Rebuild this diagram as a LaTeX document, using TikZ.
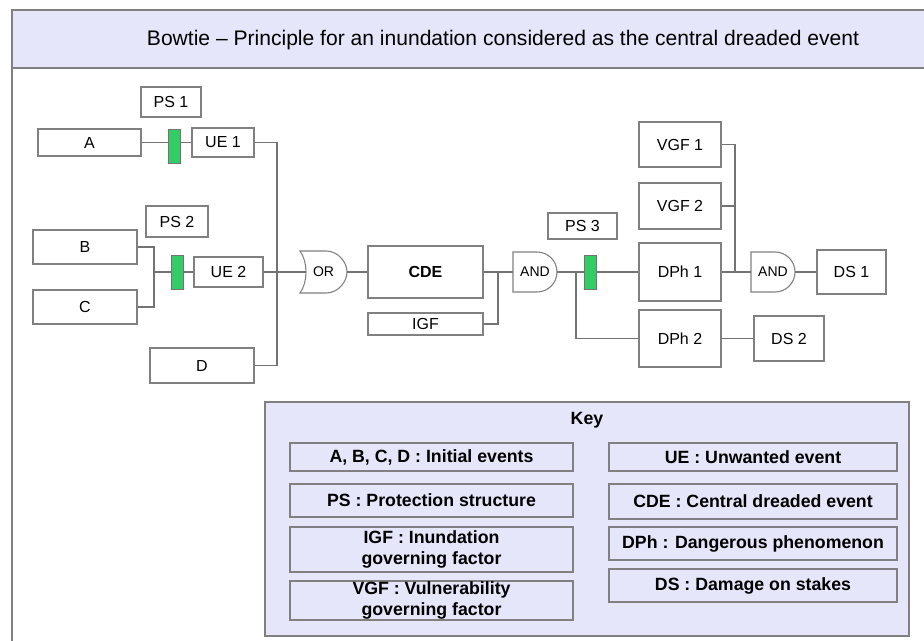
\documentclass[tikz,border=0pt]{standalone}
\usepackage{fontspec}
\setmainfont{Liberation Sans}
\usetikzlibrary{calc}
\definecolor{keylav}{RGB}{230,230,250}
\definecolor{framegray}{RGB}{128,128,128}
\definecolor{wiregray}{RGB}{115,115,115}
\definecolor{psgreen}{RGB}{51,204,102}
\tikzset{
  evbox/.style={draw=framegray,line width=0.8pt,fill=white,inner sep=0pt,
    font=\fontsize{12}{14}\selectfont},
  keybox/.style={draw=framegray,line width=0.8pt,fill=keylav,inner sep=0pt,
    align=center,font=\bfseries\fontsize{13.3}{15.5}\selectfont},
  barrier/.style={draw=wiregray,line width=0.7pt,fill=psgreen,inner sep=0pt,
    minimum width=12*0.75pt,minimum height=34*0.75pt},
  gateline/.style={draw=framegray,line width=0.8pt,fill=white},
  gatelbl/.style={inner sep=0pt,font=\fontsize{10.5}{12}\selectfont},
  wire/.style={wiregray,line width=0.8pt}
}
\newcommand{\evcell}[6]{%
  \node[evbox,minimum width=#4*0.75pt,minimum height=#5*0.75pt] (#1) at (#2,#3) {#6};
}
\newcommand{\keycell}[6]{%
  \node[keybox,minimum width=#4*0.75pt,minimum height=#5*0.75pt] (#1) at (#2,#3) {#6};
}
\newcommand{\andgate}[3]{%
  \path[gateline] (#2-22,#3-20) -- (#2+2,#3-20) arc[start angle=-90,end angle=90,radius=20]
    -- (#2-22,#3+20) -- cycle;
  \node[gatelbl,minimum width=44*0.75pt,minimum height=40*0.75pt] (#1) at (#2,#3) {AND};
}
\newcommand{\orgate}[3]{%
  % concave back, rounded front
  \path[gateline] (#2-23.5,#3-21) -- (#2+2.5,#3-21)
    .. controls (#2+14.5,#3-21) and (#2+23.5,#3-10) .. (#2+23.5,#3)
    .. controls (#2+23.5,#3+10) and (#2+14.5,#3+21) .. (#2+2.5,#3+21)
    -- (#2-23.5,#3+21) .. controls (#2-15.5,#3+10) and (#2-15.5,#3-10) .. cycle;
  \node[gatelbl,minimum width=47*0.75pt,minimum height=42*0.75pt] (#1) at (#2,#3) {OR};
}

\begin{document}
\begin{tikzpicture}[x=0.75pt,y=-0.75pt]
  \useasboundingbox (0,0) rectangle (924,640);
  \clip (0,0) rectangle (924,640);
  % frame and title band
  \draw[framegray,line width=1pt,fill=white] (12,10) rectangle (994,700);
  \draw[framegray,line width=1pt,fill=keylav] (12,10) rectangle (994,68);
  \node[font=\fontsize{15.8}{18}\selectfont] (title) at (503,40)
    {Bowtie – Principle for an inundation considered as the central dreaded event};

  % left side: initial events
  \evcell{a}{89.5}{142.5}{103}{27}{A}
  \evcell{ps1}{171}{102}{60}{30}{PS 1}
  \evcell{ue1}{223}{142.5}{62}{29}{UE 1}
  \evcell{b}{85}{247}{104}{34}{B}
  \evcell{c}{85}{307}{104}{34}{C}
  \evcell{ps2}{177}{221.5}{62}{31}{PS 2}
  \evcell{ue2}{228.5}{272}{69}{30}{UE 2}
  \evcell{d}{202}{365.5}{104}{35}{D}
  \orgate{or}{323.5}{272}

  % centre
  \node[evbox,font=\bfseries\fontsize{12}{14}\selectfont,minimum width=115*0.75pt,
    minimum height=52*0.75pt] (cde) at (425.5,272) {CDE};
  \evcell{igf}{425.5}{324}{115}{22}{IGF}
  \andgate{and1}{535}{272}
  \evcell{ps3}{582.5}{226}{69}{26}{PS 3}

  % right side: consequences
  \evcell{vgf1}{680}{144.5}{82}{45}{VGF 1}
  \evcell{vgf2}{680}{206}{82}{46}{VGF 2}
  \evcell{dph1}{680}{272}{82}{58}{DPh 1}
  \evcell{dph2}{680}{338.5}{82}{57}{DPh 2}
  \andgate{and2}{773}{272}
  \evcell{ds1}{851.5}{272}{69}{44}{DS 1}
  \evcell{ds2}{789}{338.5}{70}{45}{DS 2}

  \coordinate (busx) at (277,272);
  \coordinate (bcx) at (154,272);
  \coordinate (igfx) at (498,272);
  \coordinate (dphx) at (576,272);
  \coordinate (vgfx) at (735,272);

  \draw[wire] (a.east) -- (ue1.west);
  \node[barrier] (bar1) at (174,146) {};
  \draw[wire] (ue1.east) -| (busx |- d.east) -- (d.east);
  \draw[wire] (b.east) -| (bcx |- c.east) -- (c.east);
  \draw[wire] (bcx) -- (ue2.west);
  \node[barrier] (bar2) at (177,272) {};
  \draw[wire] (ue2.east) -- ($(or.west)+(6,0)$);
  \draw[wire] (or.east) -- (cde.west);
  \draw[wire] (cde.east) -- (and1.west);
  \draw[wire] (igf.east) -| (igfx);
  \draw[wire] (and1.east) -- (dph1.west);
  \node[barrier] (bar3) at (590.5,272) {};
  \draw[wire] (dphx) |- (dph2.west);
  \draw[wire] (vgf1.east) -| (vgfx);
  \draw[wire] (vgf2.east) -- (vgf2.east -| vgfx);
  \draw[wire] (dph1.east) -- (and2.west);
  \draw[wire] (and2.east) -- (ds1.west);
  \draw[wire] (dph2.east) -- (ds2.west);

  % key
  \draw[framegray,line width=0.8pt,fill=keylav] (265,402) rectangle (909,636);
  \node[font=\bfseries\fontsize{13.3}{15}\selectfont] (keytitle) at (587,420) {Key};
  \keycell{k1}{431.5}{457}{283}{28}{A, B, C, D : Initial events}
  \keycell{k2}{431.5}{500.5}{283}{33}{PS : Protection structure}
  \keycell{k3}{431.5}{549.5}{283}{45}{IGF : Inundation\\governing factor}
  \keycell{k4}{431.5}{600.5}{283}{39}{VGF : Vulnerability\\governing factor}
  \keycell{k5}{753}{457}{288}{28}{UE : Unwanted event}
  \keycell{k6}{753}{501.5}{288}{35}{CDE : Central dreaded event}
  \keycell{k7}{753}{543.5}{288}{33}{DPh : Dangerous phenomenon}
  \keycell{k8}{753}{585.5}{288}{33}{DS : Damage on stakes}
\end{tikzpicture}
\end{document}
